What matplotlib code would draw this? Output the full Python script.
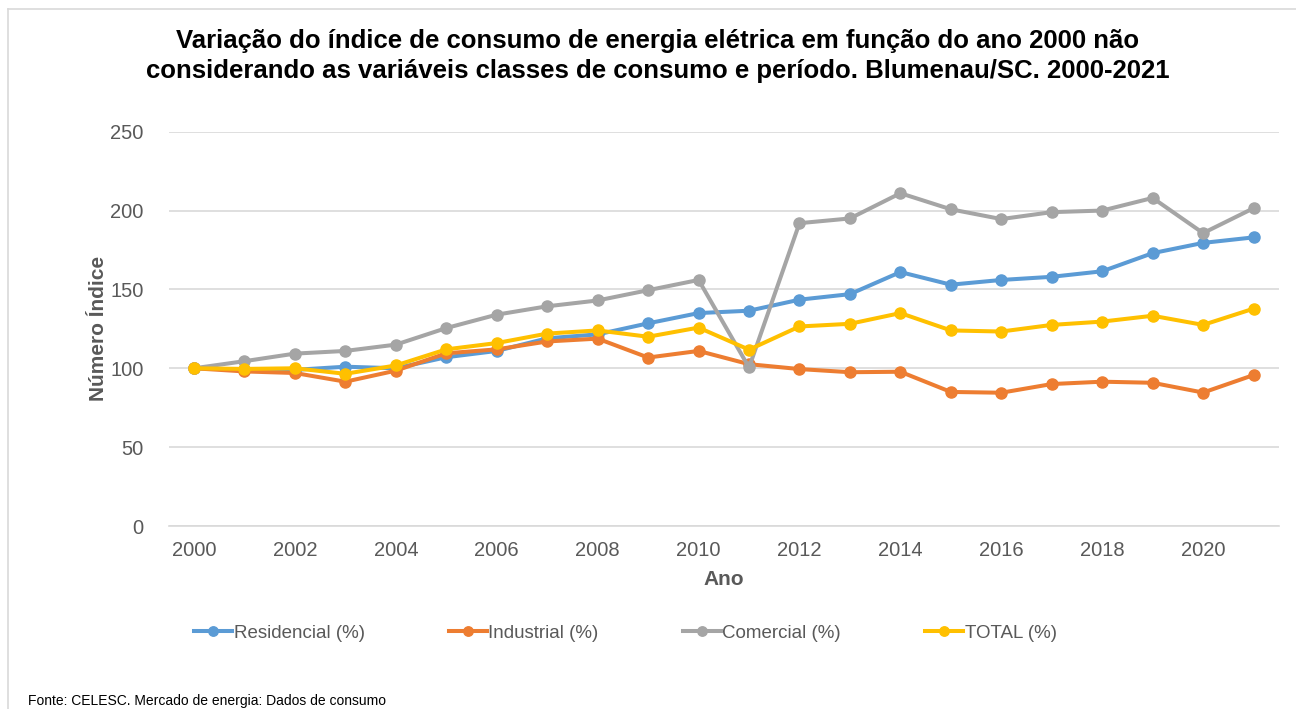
import matplotlib.pyplot as plt
from matplotlib.lines import Line2D

plt.rcParams['font.family'] = ['Liberation Sans', 'DejaVu Sans']

# Data (index, 2000 = 100)
years = list(range(2000, 2022))
residencial = [100, 99, 99, 101, 100, 107, 111, 119, 121.5, 128.5, 135, 136.5,
               143.5, 147, 161, 153, 156, 158, 161.5, 173, 179.5, 183]
industrial = [100, 98, 97, 91.5, 98.5, 109.5, 112, 117, 118.8, 106.8, 111, 102.6,
              99.5, 97.5, 97.8, 85, 84.5, 90, 91.5, 90.8, 84.6, 95.7]
comercial = [100, 104.5, 109.3, 111, 115, 125.5, 134, 139.3, 143, 149.5, 156, 100.5,
             192, 195, 211, 200.8, 194.6, 199, 200, 208, 185.7, 201.5]
total = [100, 99.6, 100, 96.5, 101.8, 112, 116, 122, 124, 120, 125.8, 111.8,
         126.5, 128.2, 135, 124, 123.3, 127.5, 129.6, 133.3, 127.5, 137.8]

series_names = ['Residencial (%)', 'Industrial (%)', 'Comercial (%)', 'TOTAL (%)']
series_colors = ['#5B9BD5', '#ED7D31', '#A5A5A5', '#FFC000']
yticks = [0, 50, 100, 150, 200, 250]
xticks = list(range(2000, 2021, 2))

W, H = 1296, 709
fig = plt.figure(figsize=(W / 100, H / 100), dpi=100)
ax = fig.add_axes([168.8 / W, 1 - 526 / H, (1278.8 - 168.8) / W, (526 - 131.7) / H])

for vals, name, col in zip([residencial, industrial, comercial, total],
                           series_names, series_colors):
    ax.plot(years, vals, color=col, linewidth=2.9, marker='o', markersize=8,
            label=name, solid_joinstyle='round')

ax.set_xlim(1999.5, 2021.5)
ax.set_ylim(0, 250)
ax.set_yticks(yticks)
ax.set_xticks(xticks)
ax.grid(axis='y', color='#D9D9D9', linewidth=1.2)
ax.set_axisbelow(True)
for s in ['top', 'right', 'left']:
    ax.spines[s].set_visible(False)
ax.spines['bottom'].set_color('#D9D9D9')
ax.spines['bottom'].set_linewidth(1.2)
ax.tick_params(length=0, labelsize=14.5, labelcolor='#595959', pad=11)
ax.tick_params(axis='y', pad=18)

ax.set_xlabel('Ano', fontsize=15, fontweight='bold', color='#595959', labelpad=7)
ax.set_ylabel('Número Índice', fontsize=15, fontweight='bold', color='#595959')
ax.yaxis.set_label_coords((108 - 168.8) / (1278.8 - 168.8), 0.5)

fig.text(658 / W, 1 - 56 / H,
         'Variação do índice de consumo de energia elétrica em função do ano 2000 não\n'
         'considerando as variáveis classes de consumo e período. Blumenau/SC. 2000-2021',
         ha='center', va='center', fontsize=18.5, fontweight='bold', color='black',
         linespacing=1.28)

leg = fig.legend(loc='center', bbox_to_anchor=(625.5 / W, 1 - 633 / H), ncol=4,
                 frameon=False, fontsize=13.5, handlelength=2.0, handletextpad=0.1,
                 columnspacing=4.5, markerscale=0.85)
for t in leg.get_texts():
    t.set_color('#595959')

# chart border (top and left edges visible)
fig.add_artist(Line2D([8 / W, 1], [1 - 9 / H, 1 - 9 / H], color='#D9D9D9', linewidth=1.2))
fig.add_artist(Line2D([8 / W, 8 / W], [0, 1 - 9 / H], color='#D9D9D9', linewidth=1.2))

fig.text(28 / W, 1 / H, 'Fonte: CELESC. Mercado de energia: Dados de consumo',
         ha='left', va='bottom', fontsize=10, color='black')

fig.savefig('out.png', dpi=100)
